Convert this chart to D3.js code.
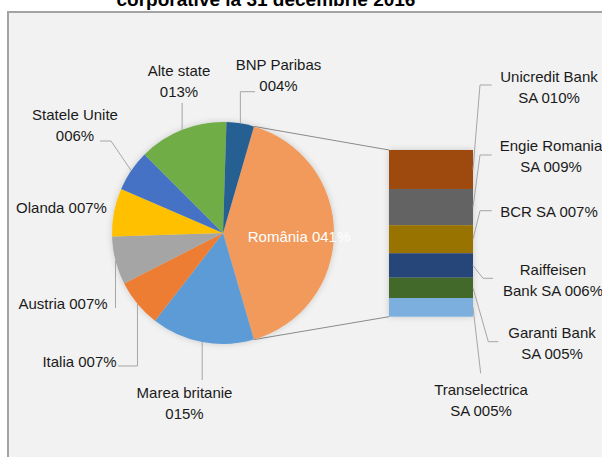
<!DOCTYPE html>
<html><head><meta charset="utf-8">
<script src="https://cdn.jsdelivr.net/npm/d3@7/dist/d3.min.js"></script>
<style>html,body{margin:0;padding:0;background:#fff;}svg{display:block;}</style>
</head><body>
<svg id="chart" width="602" height="457"></svg>
<script>
// ---- data ----
const title = "corporative la 31 decembrie 2016";
const pieCategories = ["România", "Marea britanie", "Italia", "Austria", "Olanda", "Statele Unite", "Alte state", "BNP Paribas"];
const pieValues = [41, 15, 7, 7, 7, 6, 13, 4];
const pieColors = ["#F19A5B", "#5B9BD5", "#ED7D31", "#A5A5A5", "#FFC000", "#4472C4", "#70AD47", "#255E91"];
const barCategories = ["Unicredit Bank SA", "Engie Romania SA", "BCR SA", "Raiffeisen Bank SA", "Garanti Bank SA", "Transelectrica SA"];
const barValues = [9.6, 8.9, 6.9, 6.0, 5.0, 4.6];
const barColors = ["#9E480E", "#636363", "#997300", "#264478", "#43682B", "#7CAFDD"];

// ---- layout ----
const W = 602, H = 457;
const cx = 223, cy = 233, R = 111;
const barX0 = 389, barX1 = 473, barTop = 150, barBottom = 316.7;
const lineH = 21;
// label layout: x (center), y (first baseline), words on first line (0 = single line), leader path spec
const pieLabelLayout = [
  {x: 299, y: 242, first: 0, fill: "#fff"},
  {x: 184.5, y: 398, first: 2, leader: [["v", 380]]},
  {x: 79.5, y: 366.5, first: 0, leader: [["v", 366], ["h", 118]]},
  {x: 63, y: 309, first: 0, leader: [["v", 308]]},
  {x: 61.5, y: 212.7, first: 0},
  {x: 75, y: 120, first: 2, leader: [["p", 111, 141], ["h", 100]]},
  {x: 179, y: 76, first: 2, leader: [["v", 103]]},
  {x: 278.5, y: 70, first: 2, leader: [["v", 91.7], ["h", 255]]}
];
const barLabelLayout = [
  {x: 549, y: 82, first: 2, leader: [["p", 480, 85], ["h", 491.7]]},
  {x: 551, y: 151, first: 2, leader: [["p", 480, 155], ["h", 491.7]]},
  {x: 549, y: 216.7, first: 0, leader: [["p", 480, 210.7], ["h", 491.7]]},
  {x: 553, y: 275, first: 1, leader: [["p", 483, 278.3], ["h", 493]]},
  {x: 552, y: 338.3, first: 2, leader: [["p", 488.3, 341.7], ["h", 498.3]]},
  {x: 481, y: 395, first: 1, leader: [["p", 480.7, 373.3]]}
];

const fmt = d3.format("03.0f");
const svg = d3.select("#chart");
const FONT = "'Liberation Sans', Arial, sans-serif";

// defs: shadow
const defs = svg.append("defs");
const f = defs.append("filter").attr("id", "sh").attr("x", "-20%").attr("y", "-20%").attr("width", "140%").attr("height", "140%");
f.append("feDropShadow").attr("dx", 0).attr("dy", 0).attr("stdDeviation", 3).attr("flood-color", "#000").attr("flood-opacity", 0.18);

// title (clipped at top)
svg.append("text").attr("x", 266).attr("y", 6).attr("text-anchor", "middle")
  .attr("font-family", FONT).attr("font-weight", "bold").attr("font-size", 19).attr("fill", "#000").text(title);

// chart box
svg.append("rect").attr("x", 8).attr("y", 12).attr("width", W).attr("height", H)
  .attr("fill", "#f2f2f2").attr("stroke", "#a3a3a3").attr("stroke-width", 2);

// pie
const pie = d3.pie().sort(null).value(d => d);
const total = d3.sum(pieValues);
const split = pieValues[0] / total * 2 * Math.PI;
pie.startAngle(Math.PI / 2 - split / 2).endAngle(Math.PI / 2 - split / 2 + 2 * Math.PI);
const arcs = pie(pieValues);
const arc = d3.arc().innerRadius(0).outerRadius(R);
const pt = (a, r) => [cx + r * Math.sin(a), cy - r * Math.cos(a)];

// bar scale
const y = d3.scaleLinear().domain([0, d3.sum(barValues)]).range([barTop, barBottom]);
const stack = [];
let acc = 0;
barValues.forEach((v, i) => { stack.push({i, y0: acc, y1: acc + v}); acc += v; });

// connector lines between pie split and bar
const rom = arcs[0];
const pStart = pt(rom.startAngle, R), pEnd = pt(rom.endAngle, R);
svg.append("line").attr("x1", pStart[0]).attr("y1", pStart[1]).attr("x2", barX0).attr("y2", y(0))
  .attr("stroke", "#8a8a8a").attr("stroke-width", 1);
svg.append("line").attr("x1", pEnd[0]).attr("y1", pEnd[1]).attr("x2", barX0).attr("y2", y(d3.sum(barValues)))
  .attr("stroke", "#8a8a8a").attr("stroke-width", 1);

const gPie = svg.append("g").attr("transform", `translate(${cx},${cy})`).attr("filter", "url(#sh)");
gPie.selectAll("path").data(arcs).join("path").attr("d", arc).attr("fill", (d, i) => pieColors[i]);

const gBar = svg.append("g").attr("filter", "url(#sh)");
gBar.selectAll("rect").data(stack).join("rect")
  .attr("x", barX0).attr("width", barX1 - barX0)
  .attr("y", d => y(d.y0)).attr("height", d => y(d.y1) - y(d.y0))
  .attr("fill", d => barColors[d.i]);

// leader lines
function drawLeader(start, spec) {
  if (!spec) return;
  const pts = [start];
  let cur = start;
  spec.forEach(s => {
    if (s[0] === "v") cur = [cur[0], s[1]];
    else if (s[0] === "h") cur = [s[1], cur[1]];
    else cur = [s[1], s[2]];
    pts.push(cur);
  });
  svg.append("path").attr("d", d3.line()(pts)).attr("fill", "none").attr("stroke", "#a6a6a6").attr("stroke-width", 1);
}
function drawLabel(text, lay) {
  const words = text.split(" ");
  const lines = lay.first ? [words.slice(0, lay.first).join(" "), words.slice(lay.first).join(" ")] : [text];
  const t = svg.append("text").attr("text-anchor", "middle").attr("font-family", FONT)
    .attr("font-size", 15).attr("fill", lay.fill || "#1a1a1a");
  lines.forEach((l, k) => t.append("tspan").attr("x", lay.x).attr("y", lay.y + k * lineH).text(l));
}

arcs.forEach((a, i) => {
  const lay = pieLabelLayout[i];
  const mid = (a.startAngle + a.endAngle) / 2;
  drawLeader(pt(mid, R), lay.leader);
});
stack.forEach((s, i) => {
  const lay = barLabelLayout[i];
  drawLeader([barX1, (y(s.y0) + y(s.y1)) / 2], lay.leader);
});
arcs.forEach((a, i) => drawLabel(`${pieCategories[i]} ${fmt(pieValues[i])}%`, pieLabelLayout[i]));
stack.forEach((s, i) => drawLabel(`${barCategories[i]} ${fmt(barValues[i])}%`, barLabelLayout[i]));
</script>
</body></html>
